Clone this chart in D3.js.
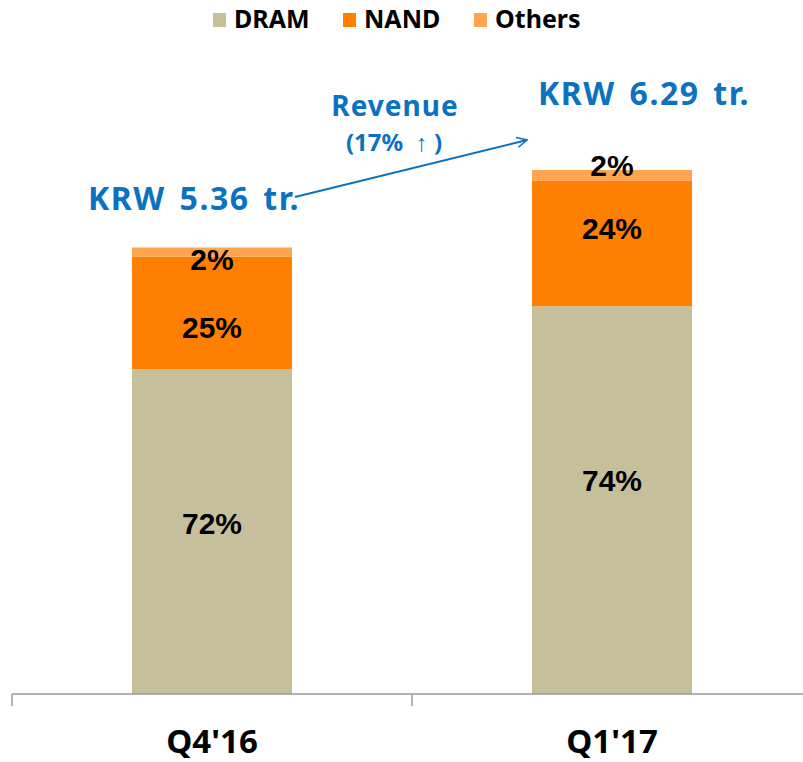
<!DOCTYPE html>
<html lang="en">
  <head>
    <meta charset="UTF-8" />
    <title>Revenue by Product</title>
    <script src="https://cdn.jsdelivr.net/npm/d3@7"></script>
    <style>
      body { margin: 0; background: #fff; }
      svg { display: block; }
    </style>
  </head>
  <body>
    <div id="main-div"></div>
    <script>
      // data
      const quarters = ["Q4'16", "Q1'17"];
      const revenue = [5.36, 6.29]; // KRW tr.
      const dramShare = [72, 74];
      const nandShare = [25, 24];
      const othersShare = [2, 2];
      const seriesNames = ["DRAM", "NAND", "Others"];
      const growthText = "(17%  \u2191 )";

      const colors = { DRAM: "#c6bf9b", NAND: "#ff7f00", Others: "#ffa44f" };
      const blue = "#0b71c1";

      let width = 803;
      let height = 762;
      let baseY = 694;

      let svg = d3
        .select("#main-div")
        .append("svg")
        .attr("width", width)
        .attr("height", height);

      let x = d3
        .scaleBand()
        .domain(quarters)
        .range([12, 812])
        .paddingInner(0.6)
        .paddingOuter(0.3);

      let y = d3.scaleLinear().domain([0, 6.29]).range([baseY, 170]);

      // build stacked rows: segment value = revenue * share
      let rows = quarters.map((q, i) => {
        let total = dramShare[i] + nandShare[i] + othersShare[i];
        return {
          quarter: q,
          DRAM: (revenue[i] * dramShare[i]) / total,
          NAND: (revenue[i] * nandShare[i]) / total,
          Others: (revenue[i] * othersShare[i]) / total,
          labels: { DRAM: dramShare[i], NAND: nandShare[i], Others: othersShare[i] },
          revenue: revenue[i],
        };
      });

      let stack = d3.stack().keys(seriesNames)(rows);

      let layers = svg
        .selectAll("g.layer")
        .data(stack)
        .enter()
        .append("g")
        .attr("class", "layer")
        .attr("fill", (d) => colors[d.key]);

      layers
        .selectAll("rect")
        .data((d) => d)
        .enter()
        .append("rect")
        .attr("x", (d) => x(d.data.quarter))
        .attr("width", x.bandwidth())
        .attr("y", (d) => y(d[1]))
        .attr("height", (d) => y(d[0]) - y(d[1]));

      // percentage labels, hand-nudged like the original slide
      let labelShift = { DRAM: [-8, -20], NAND: [14, -15], Others: [0, -17] };
      stack.forEach((layer) => {
        svg
          .append("g")
          .selectAll("text")
          .data(layer)
          .enter()
          .append("text")
          .attr("x", (d) => x(d.data.quarter) + x.bandwidth() / 2)
          .attr("y", (d, i) => {
            let mid = (y(d[0]) + y(d[1])) / 2;
            if (layer.key === "Others") mid = y(d[1]) + 12;
            return mid + labelShift[layer.key][i];
          })
          .attr("dy", "0.36em")
          .attr("text-anchor", "middle")
          .style("font-family", "Liberation Sans, Arial, sans-serif")
          .style("font-weight", "bold")
          .style("font-size", "30px")
          .attr("fill", "#000")
          .text((d) => d.data.labels[layer.key] + "%");
      });

      // axis
      let axis = svg.append("g").attr("transform", "translate(0," + baseY + ")");
      axis
        .append("line")
        .attr("x1", 12)
        .attr("x2", width)
        .attr("stroke", "#9a9a9a")
        .attr("stroke-width", 1.5);
      let gap = (x.step() - x.bandwidth()) / 2;
      axis
        .selectAll("line.tick")
        .data(quarters)
        .enter()
        .append("line")
        .attr("class", "tick")
        .attr("x1", (d) => x(d) - gap)
        .attr("x2", (d) => x(d) - gap)
        .attr("y1", 0)
        .attr("y2", 12)
        .attr("stroke", "#9a9a9a")
        .attr("stroke-width", 1.5);

      let xAxis = svg
        .append("g")
        .attr("transform", "translate(0," + baseY + ")")
        .call(d3.axisBottom(x).tickSize(0).tickPadding(36));
      xAxis.select(".domain").remove();
      xAxis
        .selectAll("text")
        .style("font-family", "Noto Sans, sans-serif")
        .style("font-weight", "bold")
        .style("font-size", "33px")
        .attr("fill", "#000");

      // revenue totals above bars
      let totalPos = [
        { dx: -18, dy: -37 },
        { dx: 32, dy: -65 },
      ];
      rows.forEach((r, i) => {
        svg
          .append("text")
          .attr("x", x(r.quarter) + x.bandwidth() / 2 + totalPos[i].dx)
          .attr("y", y(r.revenue) + totalPos[i].dy)
          .attr("text-anchor", "middle")
          .style("font-family", "Noto Sans, sans-serif")
          .style("font-weight", "bold")
          .style("font-size", "32px")
          .style("letter-spacing", "1.5px")
          .style("word-spacing", "4px")
          .attr("fill", blue)
          .text("KRW " + r.revenue.toFixed(2) + " tr.");
      });

      // growth arrow
      let defs = svg.append("defs");
      defs
        .append("marker")
        .attr("id", "arr")
        .attr("viewBox", "0 0 12 12")
        .attr("refX", 11)
        .attr("refY", 6)
        .attr("markerWidth", 12)
        .attr("markerHeight", 12)
        .attr("markerUnits", "userSpaceOnUse")
        .attr("orient", "auto")
        .append("path")
        .attr("d", "M1,1 L11,6 L1,11")
        .attr("fill", "none")
        .attr("stroke", blue)
        .attr("stroke-width", 1.6);

      svg
        .append("line")
        .attr("x1", 295)
        .attr("y1", 197)
        .attr("x2", 527)
        .attr("y2", 140)
        .attr("stroke", blue)
        .attr("stroke-width", 2)
        .attr("marker-end", "url(#arr)");

      svg
        .append("text")
        .attr("x", 395)
        .attr("y", 116)
        .attr("text-anchor", "middle")
        .style("font-family", "Noto Sans, sans-serif")
        .style("font-weight", "bold")
        .style("font-size", "28px")
        .style("letter-spacing", "1px")
        .attr("fill", blue)
        .text("Revenue");
      svg
        .append("text")
        .attr("x", 394)
        .attr("y", 151)
        .attr("text-anchor", "middle")
        .style("font-family", "Noto Sans, sans-serif")
        .style("font-weight", "bold")
        .style("font-size", "24px")
        .style("white-space", "pre")
        .attr("fill", blue)
        .text(growthText);

      // legend
      let legendX = [213, 343, 474];
      let legend = svg
        .selectAll("g.legend")
        .data(seriesNames)
        .enter()
        .append("g")
        .attr("class", "legend")
        .attr("transform", (d, i) => "translate(" + legendX[i] + ",0)");
      legend
        .append("rect")
        .attr("x", 0)
        .attr("y", 13)
        .attr("width", 13)
        .attr("height", 14)
        .attr("fill", (d) => colors[d]);
      legend
        .append("text")
        .attr("x", 21)
        .attr("y", 28)
        .style("font-family", "Noto Sans, sans-serif")
        .style("font-weight", "bold")
        .style("font-size", "25px")
        .attr("fill", "#000")
        .text((d) => d);
    </script>
  </body>
</html>
